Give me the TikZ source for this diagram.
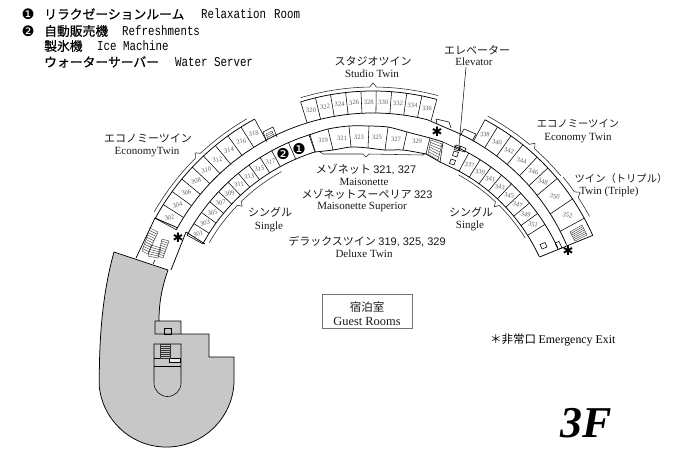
\documentclass[tikz,border=0pt]{standalone}
\usepackage{fontspec}
\usetikzlibrary{calc}
\setmainfont{Liberation Serif}
\newfontfamily\jp{Noto Sans CJK JP}
\newfontfamily\jph[FakeBold=0.6]{Noto Sans CJK JP}
\newfontfamily\hdmono[FakeStretch=0.8]{Liberation Mono}
\newfontfamily\djv{DejaVu Sans}
\newfontfamily\lsans{Liberation Sans}
\newcommand{\fs}[1]{\fontsize{#1}{#1}\selectfont}
\newcommand{\stairs}[5]{%
  \draw[stairline] (#1) -- (#2) -- (#3) -- (#4) -- cycle;
  \foreach \tq in {1,...,#5}{
    \pgfmathsetmacro\uq{\tq/(#5+1)}
    \draw[stairline] ($(#1)!\uq!(#4)$) -- ($(#2)!\uq!(#3)$);
  }}
\newcommand{\bracketarc}[5]{% start angle, tip angle, end angle, radius, tip radius
  \draw[bracketline] (#1:#4pt) arc[start angle=#1,end angle=#2+0.8,radius=#4pt]
    -- (#2:#5pt) -- (#2-0.8:#4pt) arc[start angle=#2-0.8,end angle=#3,radius=#4pt];}
\tikzset{
  wall/.style={draw=black,line width=0.75pt,line join=round},
  thin wall/.style={draw=black,line width=0.55pt},
  stairline/.style={draw=black!80,line width=0.4pt},
  bracketline/.style={draw=black!85,line width=0.55pt,line join=round,line cap=round},
  roomno/.style={font=\fs{6.6},text=black!62,inner sep=0pt},
  jplabel/.style={font=\jp\fs{11},text=black!90,inner sep=0pt},
  enlabel/.style={font=\fs{11},text=black!90,inner sep=0pt},
  head/.style={anchor=west,font=\jph\fs{12.8},inner sep=0pt},
  headen/.style={anchor=west,font=\hdmono\fs{13.5},inner sep=0pt},
  numdot/.style={font=\djv\fs{15},inner sep=0pt},
  starmark/.style={font=\djv\bfseries\fs{13},inner sep=0pt},
}
\begin{document}
\begin{tikzpicture}[x=1pt,y=-1pt]
\useasboundingbox[fill=white] (0,0) rectangle (687,448);

% ---- grey block
\fill[fill=black!22] (114,252) -- (168,270) .. controls (161,290) and (159,305) .. (159,321) -- (155,321) -- (155,334) -- (181,334) -- (209,334) -- (209,357) -- (234,357) -- (234,383) arc[start angle=-3,end angle=-173.6,radius=67.6pt] .. controls (99,340) and (102,295) .. (114,252) -- cycle;
\fill[fill=black!22] (155,321) rectangle (181,334);
\draw[wall] (114,252) -- (168,270) .. controls (161,290) and (159,305) .. (159,321) -- (155,321) -- (155,334) -- (181,334) -- (181,321) -- (159,321);
\draw[wall] (181,334) -- (209,334) -- (209,357) -- (234,357) -- (234,383) arc[start angle=-3,end angle=-173.6,radius=67.6pt] .. controls (99,340) and (102,295) .. (114,252);
\draw[thin wall] (164,328) rectangle (171,334);
\draw[thin wall] (154,358) -- (154,344) -- (181,344) -- (181,383) arc[start angle=0,end angle=-180,radius=13.5pt] -- (154,358);
\draw[thin wall] (154,358) -- (181,358);
\draw[thin wall] (154,366) -- (181,366);
\draw[thin wall,fill=black!8] (169,358) rectangle (180,362);
\coordinate (cs1) at (160,344); \coordinate (cs2) at (170,344); \coordinate (cs3) at (170,358); \coordinate (cs4) at (160,358);
\stairs{cs1}{cs2}{cs3}{cs4}{6}

% ---- left and middle wing, centre (373,337)
\begin{scope}[shift={(373,337)}]
  % outer rooms 302-318
  \draw[wall] (151.4:248pt) arc[start angle=151.4,end angle=118.5,radius=248pt];
  \foreach \i [evaluate=\i as \a using 151.4-\i*3.655] in {0,...,9}
    \draw[thin wall] (\a:224pt) -- (\a:248pt);
  \foreach \i [evaluate=\i as \a using 151.4-(\i+0.5)*3.655, evaluate=\i as \n using int(302+2*\i)] in {0,...,8}
    \node[roomno,rotate={(\a-90)*0.25}] (r\n) at (\a:236pt) {\n};
  % lower rooms 301-317 and the two service rooms
  \draw[wall] (151.3:194pt) arc[start angle=151.3,end angle=107.3,radius=194pt];
  \draw[wall] (151.3:212pt) arc[start angle=151.3,end angle=107.3,radius=212pt];
  \foreach \i [evaluate=\i as \a using 151.3-\i*3.64] in {0,...,9}
    \draw[thin wall] (\a:194pt) -- (\a:212pt);
  \foreach \i [evaluate=\i as \a using 151.3-(\i+0.5)*3.64, evaluate=\i as \n using int(301+2*\i)] in {0,...,8}
    \node[roomno,rotate={(\a-90)*0.25}] (r\n) at (\a:203pt) {\n};
  \draw[thin wall] (113.5:194pt) -- (113.5:212pt);
  \draw[thin wall] (107.3:194pt) -- (107.3:212pt);
  % upper rooms 320-336
  \draw[wall] (107.1:246pt) arc[start angle=107.1,end angle=75,radius=246pt];
  \foreach \i [evaluate=\i as \a using 107.1-\i*3.57] in {0,...,9}
    \draw[thin wall] (\a:224pt) -- (\a:246pt);
  \foreach \i [evaluate=\i as \a using 107.1-(\i+0.5)*3.57, evaluate=\i as \n using int(320+2*\i)] in {0,...,8}
    \node[roomno,rotate={(\a-90)*0.3}] (r\n) at (\a:235pt) {\n};
  % corridor outer wall, left part
  \draw[wall] (151.4:224pt) arc[start angle=151.4,end angle=76,radius=224pt] coordinate (cw1);
  % brackets
  \bracketarc{150.2}{134}{120}{252}{256}
  \bracketarc{150}{135}{119}{189}{185}
  \bracketarc{106.8}{90}{75}{250}{254}
\end{scope}

% ---- corridor link and middle lower rooms
\coordinate (mt0) at (309,135); \coordinate (mb0) at (315,152);
\coordinate (mt1) at (328,129); \coordinate (mb1) at (333,150);
\coordinate (mt2) at (349,126); \coordinate (mb2) at (351,147);
\coordinate (mt3) at (369,126); \coordinate (mb3) at (368,148);
\coordinate (mt4) at (388,127); \coordinate (mb4) at (385,150);
\coordinate (mt5) at (407,132); \coordinate (mb5) at (403,150);
\coordinate (mt6) at (430,138); \coordinate (mb6) at (426,154);
\coordinate (mt7) at (443,142); \coordinate (mb7) at (440,162);
\draw[wall] plot[smooth,tension=0.5] coordinates {(mt0)(mt1)(mt2)(mt3)(mt4)(mt5)(mt6)(mt7)};
\draw[wall] plot[smooth,tension=0.5] coordinates {(mb0)(mb1)(mb2)(mb3)(mb4)(mb5)(mb6)};
\draw[wall] (mb6) -- (mb7);
\foreach \j in {0,...,7}
  \draw[thin wall] (mt\j) -- (mb\j);
\foreach \xx/\yy/\n in {323/140/319,342/138/321,359/137/323,377/137/325,396/139/327,417/141/329}
  \node[roomno] (r\n) at (\xx,\yy) {\n};
\coordinate (ss1) at (431,140); \coordinate (ss2) at (442,144); \coordinate (ss3) at (438,160); \coordinate (ss4) at (428,154);
\stairs{ss1}{ss2}{ss3}{ss4}{5}

% ---- right wing, centre (370,335)
\begin{scope}[shift={(370,335)}]
  \draw[wall] (61.9:244pt) arc[start angle=61.9,end angle=24.1,radius=244pt];
  \draw[wall] (24.7:187pt) -- (24.1:244pt);
  \foreach \a/\b/\n in {61.9/58.5/338,58.5/54.7/340,54.7/51.2/342,51.2/46.8/344,46.8/43.2/346,43.2/39.9/348,39.9/33.9/350,33.9/28.6/352}{
    \pgfmathsetmacro\rr{220-(61.9-\a)*0.1}
    \draw[thin wall] (\a:\rr pt) -- (\a:244pt);
    \pgfmathsetmacro\m{(\a+\b)/2}
    \node[roomno,rotate={(\m-90)*0.25}] (r\n) at (\m:231pt) {\n};
  }
  \draw[thin wall] (28.6:216.5pt) -- (28.6:244pt);
  \foreach \i [evaluate=\i as \a using 61.5-\i*3.65] in {0,...,8}
    \draw[thin wall] (\a:186.5pt) -- (\a:207pt);
  \foreach \i [evaluate=\i as \a using 61.5-(\i+0.5)*3.65, evaluate=\i as \n using int(337+2*\i)] in {0,...,7}
    \node[roomno,rotate={(\a-90)*0.25}] (r\n) at (\a:197pt) {\n};
  \draw[wall] (61.5:186.5pt) arc[start angle=61.5,end angle=24.7,radius=186.5pt];
  \draw[wall] (66:207pt) arc[start angle=66,end angle=24.9,radius=207pt];
  \coordinate (cw2) at (66:220.4pt);
  \bracketarc{61.7}{49.3}{39.9}{248.5}{253}
  \bracketarc{39.3}{34.2}{28.4}{249.5}{254}
  \bracketarc{61}{45.9}{32}{183}{178.5}
\end{scope}
\draw[wall] plot[domain=66:24.7,samples=16] ({370+(220-(61.9-\x)*0.1)*cos(\x)},{335-(220-(61.9-\x)*0.1)*sin(\x)});
\draw[wall] (cw1) -- (cw2);
\draw[wall] (mb7) -- (459,171);
\draw[thin wall] (mt7) -- (460,150);

% elevator and service boxes
\draw[thin wall] (451,159) -- (455.5,160.5) -- (454,165) -- (449.5,163.5) -- cycle;
\draw[thin wall] (454,151) -- (458.5,152.5) -- (457,157) -- (452.5,155.5) -- cycle;
\draw[thin wall] (456,145) -- (460.5,146.5) -- (459,151) -- (454.5,149.5) -- cycle;
\draw[thin wall] (460,146) -- (466,148.5) -- (464.5,152) -- (458.5,150) -- cycle;
\coordinate (elevtop) at (466,67); \coordinate (elevend) at (459,146);
\draw[draw=black,line width=0.5pt] (elevtop) -- (elevend);

% stubs on the corridor
\draw[thin wall] (436,119) -- (449,122) -- (451,128) (437,124) -- (436,119);
\draw[thin wall] (464,129) -- (476,134) -- (472,141) (460,136) -- (464,129);
\draw[thin wall] (263,132) -- (273,127) -- (277,137) (267,142) -- (263,132);
\coordinate (st1) at (266,134); \coordinate (st2) at (272,131); \coordinate (st3) at (274,136); \coordinate (st4) at (268,139);
\stairs{st1}{st2}{st3}{st4}{2}

% left end with stairs
\draw[wall] (155,218) -- (136,258);
\draw[wall] (186,232) -- (171,270);
\draw[wall] (155,218) -- (178,228);
\draw[wall] (186,232) -- (205,244);
\draw[thin wall] (155,260) -- (153,264);
\coordinate (sa1) at (150,228); \coordinate (sa2) at (158,232); \coordinate (sa3) at (148,254); \coordinate (sa4) at (142,251);
\stairs{sa1}{sa2}{sa3}{sa4}{9}
\coordinate (sb1) at (151,245); \coordinate (sb2) at (161,248); \coordinate (sb3) at (158,258); \coordinate (sb4) at (148,256);
\stairs{sb1}{sb2}{sb3}{sb4}{4}
\coordinate (sc1) at (162,239); \coordinate (sc2) at (169,241); \coordinate (sc3) at (163,258); \coordinate (sc4) at (158,256);
\stairs{sc1}{sc2}{sc3}{sc4}{7}

% right end details
\coordinate (sr1) at (570,232); \coordinate (sr2) at (582,225); \coordinate (sr3) at (587,235); \coordinate (sr4) at (575,241);
\stairs{sr1}{sr2}{sr3}{sr4}{5}
\draw[thin wall] (540,244.5) -- (545,242.5) -- (547,247) -- (542,249) -- cycle;
\draw[thin wall] (555,243) -- (559,241.5) -- (562,248) -- (558,249.5) -- cycle;

% middle bracket
\coordinate (mbr1) at (320,152); \coordinate (mbr2) at (323,154); \coordinate (mbr3) at (363,154);
\coordinate (mbr4) at (366,157); \coordinate (mbr5) at (369,154); \coordinate (mbr6) at (423,155); \coordinate (mbr7) at (426,153);
\draw[bracketline] (mbr1) -- (mbr2) -- (mbr3) -- (mbr4) -- (mbr5) -- (mbr6) -- (mbr7);

% stars and numbers
\node[starmark] (star1) at (178,238) {✱};
\node[starmark] (star2) at (437,132) {✱};
\node[starmark] (star3) at (568,251) {✱};
\node[numdot] (n1) at (299,149) {❶};
\node[numdot] (n2) at (283,154) {❷};

% header
\node[numdot,font=\djv\fs{14.5}] (h1) at (28,14) {❶};
\node[numdot,font=\djv\fs{14.5}] (h2) at (28,31) {❷};
\node[head] (h1j) at (44,14) {リラクゼーションルーム};
\node[headen] (h1e) at (201,14) {Relaxation\hspace{0.6em}Room};
\node[head] (h2j) at (44,31) {自動販売機};
\node[headen] (h2e) at (122,31) {Refreshments};
\node[head] (h3j) at (44,46) {製氷機};
\node[headen] (h3e) at (97,46) {Ice Machine};
\node[head] (h4j) at (44,62) {ウォーターサーバー};
\node[headen] (h4e) at (175,62) {Water Server};

% labels
\node[jplabel] (l1) at (373,61) {スタジオツイン};
\node[enlabel] (l1e) at (372,74) {Studio Twin};
\node[jplabel] (l2) at (477,50) {エレベーター};
\node[enlabel] (l2e) at (474,62) {Elevator};
\node[jplabel] (l3) at (148,138) {エコノミーツイン};
\node[enlabel] (l3e) at (147,152) {EconomyTwin};
\node[jplabel,font=\jp\fs{10.3}] (l4) at (578,124) {エコノミーツイン};
\node[enlabel] (l4e) at (578,138) {Economy Twin};
\node[jplabel,font=\jp\fs{10.3}] (l5) at (621,179) {ツイン（トリプル）};
\node[enlabel] (l5e) at (609,192) {Twin (Triple)};
\node[jplabel] (l6) at (270,212) {シングル};
\node[enlabel] (l6e) at (269,227) {Single};
\node[jplabel] (l7) at (471,212) {シングル};
\node[enlabel] (l7e) at (470,226) {Single};
\node[jplabel] (l8) at (366,169) {メゾネット {\lsans 321, 327}};
\node[enlabel] (l8e) at (364,182) {Maisonette};
\node[jplabel] (l9) at (367,194) {メゾネットスーペリア {\lsans 323}};
\node[enlabel] (l9e) at (362,207) {Maisonette Superior};
\node[jplabel] (l10) at (367,242) {デラックスツイン {\lsans 319, 325, 329}};
\node[enlabel] (l10e) at (364,254) {Deluxe Twin};
\coordinate (gr1) at (322,294); \coordinate (gr2) at (412,328);
\draw[draw=black!55,line width=0.9pt] (gr1) rectangle (gr2);
\node[jplabel,font=\jp\fs{11.5}] (g1) at (367,307) {宿泊室};
\node[enlabel,font=\fs{12.4}] (g2) at (367,321) {Guest Rooms};
\node[anchor=west,inner sep=0pt] (ex) at (490,340) {{\jp\fs{11.5}＊非常口} {\fs{11.9}Emergency Exit}};
\node[inner sep=0pt,font=\bfseries\itshape\fs{44}] (fl) at (586,423) {3F};
\end{tikzpicture}
\end{document}
